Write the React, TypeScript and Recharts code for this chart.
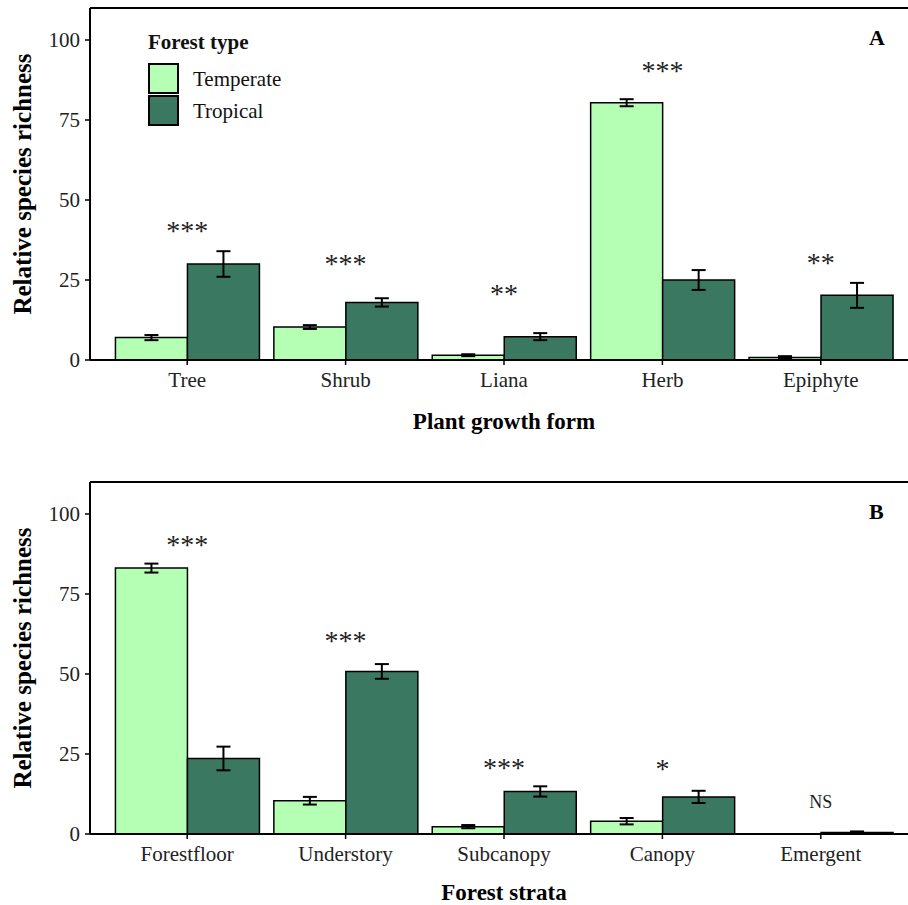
import React from "react";
import {
  ComposedChart,
  Bar,
  Scatter,
  XAxis,
  YAxis,
  ErrorBar,
  ReferenceLine,
  Legend,
} from "recharts";

const growthForms = ["Tree", "Shrub", "Liana", "Herb", "Epiphyte"];
const growthTemperate = [7.0, 10.3, 1.5, 80.4, 0.8];
const growthTemperateErr = [0.8, 0.6, 0.3, 1.1, 0.4];
const growthTropical = [30.0, 18.0, 7.3, 25.0, 20.2];
const growthTropicalErr = [4.0, 1.3, 1.1, 3.1, 3.9];
const growthSig = ["***", "***", "**", "***", "**"];
const growthSigY = [40.8, 30.5, 21.2, 90.8, 30.8];

const strata = ["Forestfloor", "Understory", "Subcanopy", "Canopy", "Emergent"];
const strataTemperate = [83.1, 10.4, 2.3, 4.0, 0];
const strataTemperateErr = [1.4, 1.2, 0.5, 1.0, 0];
const strataTropical = [23.6, 50.8, 13.3, 11.6, 0.5];
const strataTropicalErr = [3.7, 2.3, 1.6, 1.9, 0.3];
const strataSig = ["***", "***", "***", "*", "NS"];
const strataSigY = [90.9, 61.0, 21.1, 20.9, 9.9];

const yTicks = [0, 25, 50, 75, 100];
const seriesNames = ["Temperate", "Tropical"];
const seriesColors = ["#b4ffb4", "#3a7862"];

const font = "'Liberation Serif', 'Times New Roman', serif";

function buildRows(
  names: string[],
  temp: number[],
  tempErr: number[],
  trop: number[],
  tropErr: number[],
  sig: string[],
  sigY: number[]
) {
  return names.map((name, i) => ({
    name,
    temperate: temp[i],
    temperateErr: tempErr[i],
    tropical: trop[i],
    tropicalErr: tropErr[i],
    sig: sig[i],
    sigY: sigY[i],
  }));
}

const growthRows = buildRows(
  growthForms,
  growthTemperate,
  growthTemperateErr,
  growthTropical,
  growthTropicalErr,
  growthSig,
  growthSigY
);
const strataRows = buildRows(
  strata,
  strataTemperate,
  strataTemperateErr,
  strataTropical,
  strataTropicalErr,
  strataSig,
  strataSigY
);

// significance stars drawn at the category centre
const SigMark = (props: any) => {
  const { cx, cy, payload } = props;
  if (cx == null || cy == null) return null;
  const isStar = payload.sig.indexOf("*") === 0;
  return (
    <text
      x={cx}
      y={cy + (isStar ? 11 : 6)}
      textAnchor="middle"
      fontFamily={font}
      fontSize={isStar ? 28 : 18}
      fill="#222"
    >
      {payload.sig}
    </text>
  );
};

const LegendBox = () => (
  <div style={{ fontFamily: font, color: "#111" }}>
    <div style={{ fontWeight: "bold", fontSize: 21, lineHeight: "24px", marginBottom: 9 }}>
      Forest type
    </div>
    {seriesNames.map((n, i) => (
      <div key={n} style={{ display: "flex", alignItems: "flex-start", height: 32 }}>
        <div
          style={{
            width: 27,
            height: 27,
            background: seriesColors[i],
            border: "2px solid #000",
            marginRight: 14,
          }}
        />
        <span style={{ fontSize: 21, lineHeight: "32px" }}>{n}</span>
      </div>
    ))}
  </div>
);

function Panel(props: {
  rows: any[];
  title: string;
  tag: string;
  top: number;
  titleOffset: number;
  legend?: boolean;
}) {
  const { rows, title, tag, top, titleOffset, legend } = props;
  return (
    <div style={{ position: "absolute", left: 0, top, width: 918, height: 452 }}>
      <ComposedChart
        width={918}
        height={452}
        data={rows}
        margin={{ top: 8, right: 0, bottom: 0, left: 0 }}
        barCategoryGap="4.7%"
        barGap={0}
      >
        <XAxis
          dataKey="name"
          height={92}
          padding={{ left: 18, right: 18 }}
          tickSize={5}
          tickMargin={7}
          axisLine={{ stroke: "#000", strokeWidth: 2 }}
          tickLine={{ stroke: "#000", strokeWidth: 1.5 }}
          tick={{ fontFamily: font, fontSize: 21, fill: "#222" }}
          label={{
            value: title,
            position: "insideBottom",
            offset: titleOffset,
            style: { fontFamily: font, fontSize: 23, fontWeight: "bold", fill: "#000" },
          }}
        />
        <YAxis
          width={90}
          domain={[0, 110]}
          ticks={yTicks}
          allowDataOverflow
          tickSize={5}
          tickMargin={5}
          axisLine={{ stroke: "#000", strokeWidth: 2 }}
          tickLine={{ stroke: "#000", strokeWidth: 1.5 }}
          tick={{ fontFamily: font, fontSize: 21, fill: "#222" }}
          label={{
            value: "Relative species richness",
            angle: -90,
            position: "insideLeft",
            offset: 22,
            style: {
              textAnchor: "middle",
              fontFamily: font,
              fontSize: 25,
              fontWeight: "bold",
              fill: "#000",
            },
          }}
        />
        <ReferenceLine y={110} stroke="#000" strokeWidth={2} />
        {legend && (
          <Legend
            layout="vertical"
            align="center"
            verticalAlign="middle"
            content={() => <LegendBox />}
            wrapperStyle={{ position: "absolute", left: 148, top: 30, width: "auto" }}
          />
        )}
        <Bar
          dataKey="temperate"
          name={seriesNames[0]}
          fill={seriesColors[0]}
          stroke="#000"
          strokeWidth={1.5}
          isAnimationActive={false}
        >
          <ErrorBar dataKey="temperateErr" width={7} stroke="#000" strokeWidth={2} />
        </Bar>
        <Bar
          dataKey="tropical"
          name={seriesNames[1]}
          fill={seriesColors[1]}
          stroke="#000"
          strokeWidth={1.5}
          isAnimationActive={false}
        >
          <ErrorBar dataKey="tropicalErr" width={7} stroke="#000" strokeWidth={2} />
        </Bar>
        <Scatter dataKey="sigY" shape={SigMark} isAnimationActive={false} legendType="none" />
      </ComposedChart>
      <div
        style={{
          position: "absolute",
          left: 869,
          top: 26,
          fontFamily: font,
          fontWeight: "bold",
          fontSize: 22,
          lineHeight: "24px",
          color: "#000",
        }}
      >
        {tag}
      </div>
    </div>
  );
}

export default function App() {
  return (
    <div
      style={{
        position: "absolute",
        left: 0,
        top: 0,
        width: 908,
        height: 905,
        overflow: "hidden",
        background: "#fff",
      }}
    >
      <Panel rows={growthRows} title="Plant growth form" tag="A" top={0} titleOffset={23} legend />
      <Panel rows={strataRows} title="Forest strata" tag="B" top={474} titleOffset={26} />
    </div>
  );
}
